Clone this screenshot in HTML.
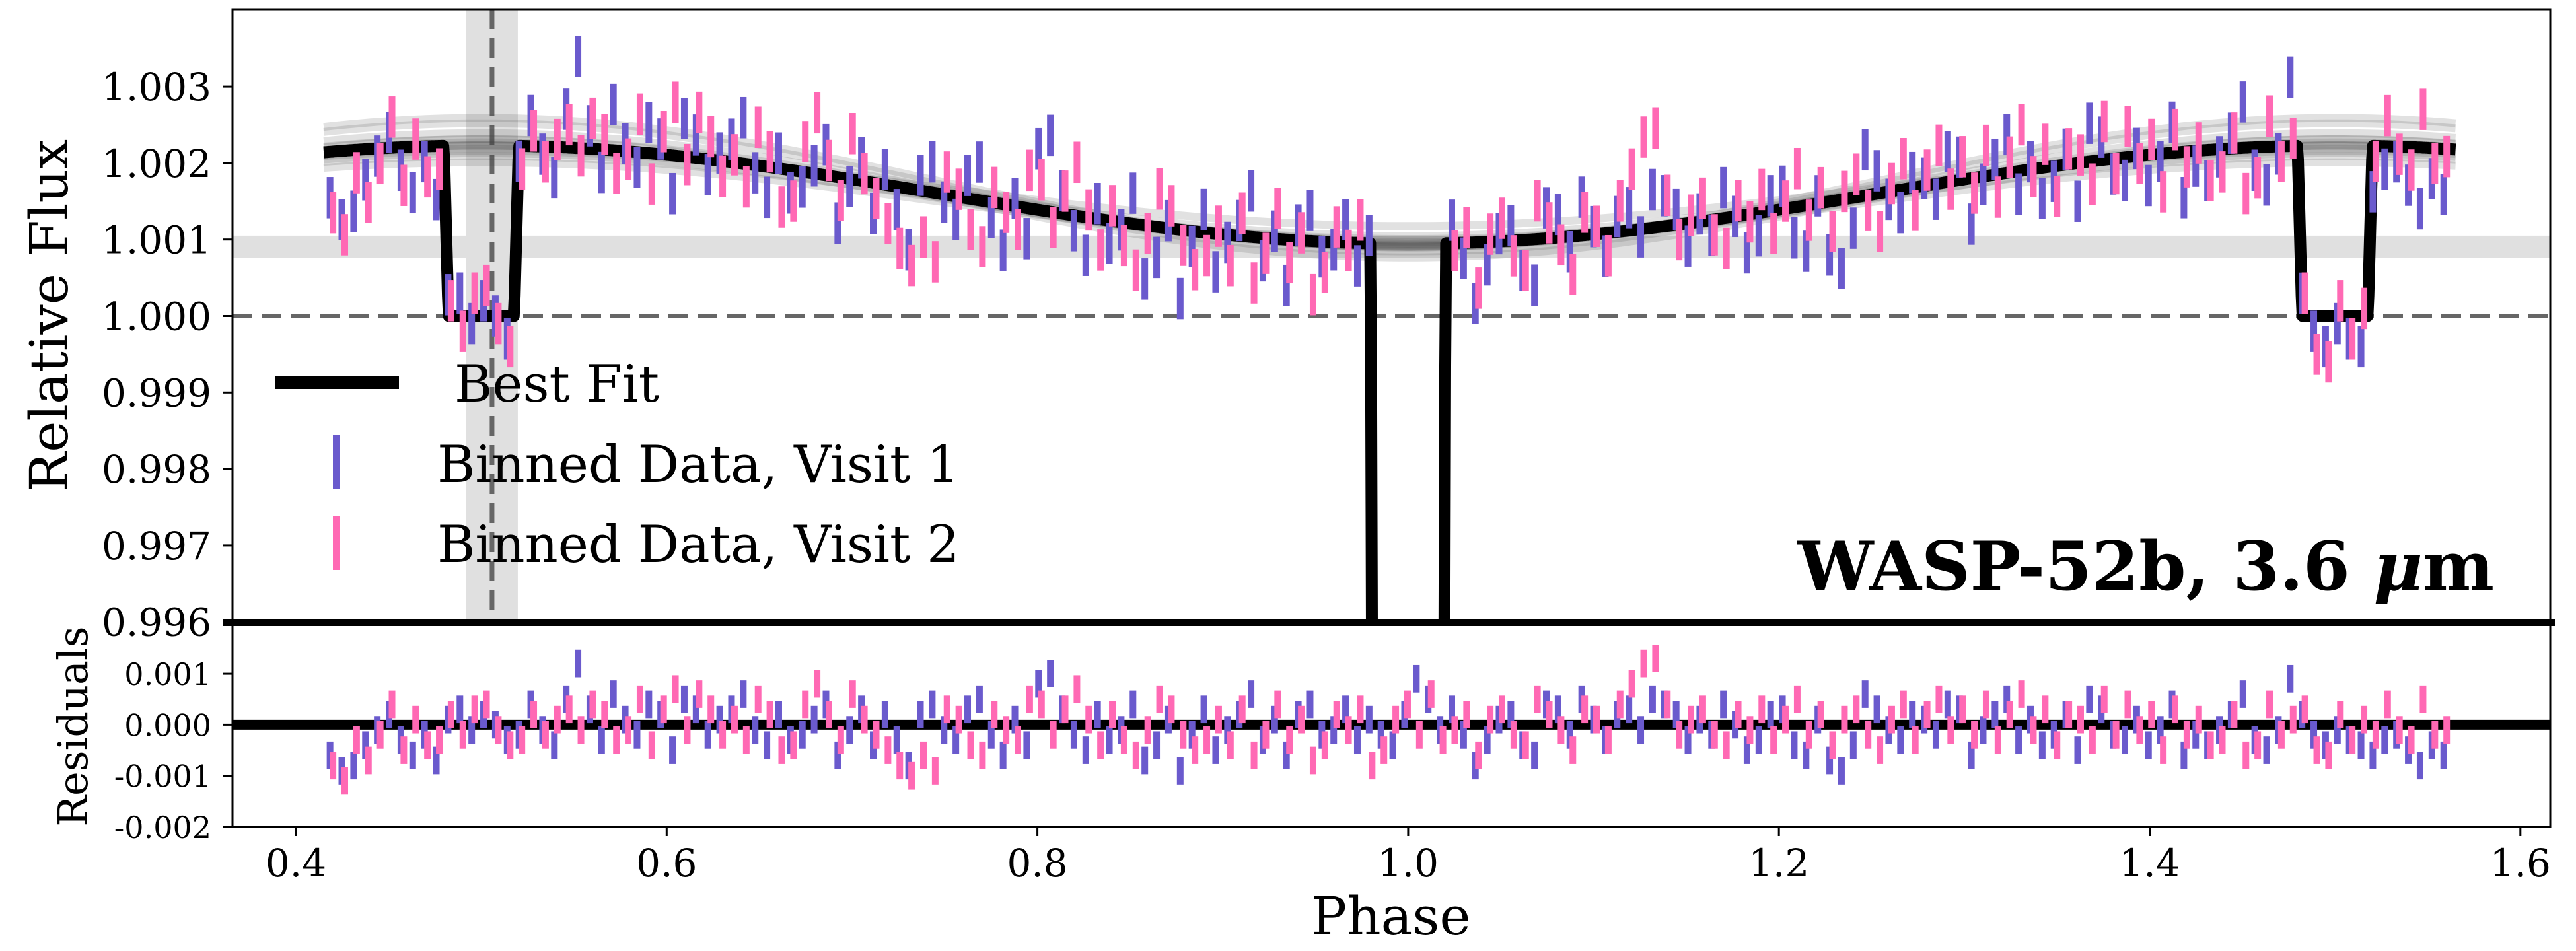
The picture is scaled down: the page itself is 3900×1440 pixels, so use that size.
<!DOCTYPE html>
<html><head><meta charset="utf-8">
<style>
html,body{margin:0;padding:0;background:#fff;width:3900px;height:1440px;overflow:hidden;}
svg{display:block;font-family:"DejaVu Serif","Liberation Serif",serif;}
</style></head>
<body>
<svg id="chart" width="3900" height="1440" viewBox="0 0 3900 1440" xmlns="http://www.w3.org/2000/svg">
<defs>
<clipPath id="clipMain"><rect x="352" y="14" width="3509" height="928"/></clipPath>
<clipPath id="clipRes"><rect x="352" y="942" width="3509" height="310"/></clipPath>
</defs>
<rect x="0" y="0" width="3900" height="1440" fill="#fff"/>
<g id="bg" clip-path="url(#clipMain)"></g>
<g id="gray" clip-path="url(#clipMain)"></g>
<g id="model" clip-path="url(#clipMain)"></g>
<g id="mainData" clip-path="url(#clipMain)"></g>
<g id="resData" clip-path="url(#clipRes)"></g>
<g id="axes"></g>
<g id="legend">
  <line x1="416" y1="579" x2="604" y2="579" stroke="#000" stroke-width="20"/>
  <text x="688" y="608" font-size="78">Best Fit</text>
  <rect x="504" y="659" width="10" height="81" fill="#6a5acd"/>
  <text x="662" y="730" font-size="78">Binned Data, Visit 1</text>
  <rect x="504" y="781" width="10" height="82" fill="#ff69b4"/>
  <text x="662" y="851" font-size="78">Binned Data, Visit 2</text>
</g>
<text x="3776" y="893" text-anchor="end" font-size="102" font-weight="bold">WASP-52b, 3.6 <tspan font-style="italic">μ</tspan>m</text>
<text transform="translate(102,478) rotate(-90)" text-anchor="middle" font-size="80">Relative Flux</text>
<text transform="translate(132,1100) rotate(-90)" text-anchor="middle" font-size="62">Residuals</text>
<text x="2106" y="1415" text-anchor="middle" font-size="80">Phase</text>
</svg>
<script>
// ---- data ----
const xTicks = [0.4, 0.6, 0.8, 1.0, 1.2, 1.4, 1.6];
const xTickLabels = ["0.4","0.6","0.8","1.0","1.2","1.4","1.6"];
const yTicks = [1.003, 1.002, 1.001, 1.000, 0.999, 0.998, 0.997, 0.996];
const yTickLabels = ["1.003","1.002","1.001","1.000","0.999","0.998","0.997","0.996"];
const resTicks = [0.001, 0.000, -0.001, -0.002];
const resTickLabels = ["0.001","0.000","-0.001","-0.002"];
const binStart = [0.4184, 0.4200];
const binStep = [0.00637, 0.00637];
const errHalf = [0.00027, 0.00027];
// residuals in units of 1e-4
const visit1Resid = [
-6,-9,-8,-4,-1,2,-3,-6,-2,-7, 1,3,-1,2,0,-3,-2,4,-1,-4,
5,12,3,-3,6,1,-2,4,2,-5, 5,3,-2,1,3,6,-1,-4,2,-3,
-2,1,4,-6,-1,3,-4,2,-3,-8, 2,4,-1,-3,3,5,-2,-6,1,-4,
8,10,3,-2,-5,2,-3,-1,4,-7, -4,1,-9,-2,3,-5,-1,2,6,-3,
1,-6,2,4,-2,-1,3,-3,1,-2, -4,2,9,5,-1,3,-2,-8,-3,1,
2,-4,-6,4,3,-2,5,1,-3,2, 3,-1,5,4,2,-3,1,-2,4,0,
-5,-3,2,3,-4,-6,1,-7,-9,-4, 6,3,-1,-3,2,1,-2,4,3,-6,
-1,2,5,-3,1,-4,-2,2,-5,5, 3,-2,-3,1,-4,-1,4,-6,-2,-4,
-1,2,6,-3,-5,-1,9,2,-2,-4, -1,-3,-4,-6,-3,-2,-5,-8,-4,-6];
const visit2Resid = [
-8,-11,-3,-7,-2,4,-5,1,-4,-3, 2,-2,3,4,-1,-4,-3,2,-2,1,
3,-1,4,2,-3,-1,5,-4,3,7, -1,6,3,-2,1,-3,5,2,-5,-4,
4,8,2,-3,6,1,-2,-5,-8,-10, -6,-9,3,1,-4,-6,2,-1,-3,5,
4,-2,3,7,1,-4,2,-3,-6,-1, 5,3,-2,-5,-3,1,-4,3,-6,-2,
4,-3,1,-7,-4,2,-1,3,-8,-5, 1,4,-2,6,-3,-1,2,-6,1,3,
-2,-4,5,2,-1,-5,3,1,-3,4, 8,12,13,4,-2,1,3,-2,-4,2,
-1,3,-3,1,5,-2,2,-4,1,3, -2,-5,1,4,-3,2,5,-1,3,-2,
4,-3,2,6,-1,3,-4,2,1,-3, 5,-2,4,-1,2,-5,3,-2,1,-4,
-3,2,-6,-4,4,-2,1,3,-5,-6, 2,-3,1,-2,4,-1,-3,5,-2,-1];
// model parameters
const curveMean = [1.001588];
const curveAmp = [0.000642];
const eclipseCenters = [0.5, 1.5];
const transitCenters = [1.0];
const eventHalfWidth = [0.0202];
const eventFlatHalf = [0.0177];
const transitDepth = [0.02];
const phaseRange = [0.415, 1.565];
const grayAmpOffsets = [-0.00015,-0.0001,-0.00007,-0.00004,-0.00002,0,0.00002,0.00004,0.00007,0.0001,0.00013,0.00017,0.0002,-0.00012];
const grayMeanOffsets = [0.00008,-0.00004,0.00003,-0.00006,0.00002,0,-0.00002,0.00004,-0.00003,0.00006,-0.00005,0.00012,0.00016,-0.0001];

const bandFlux = [1.00076, 1.00105];
const bandPhase = [0.4916, 0.5197];
const dashedPhase = [0.5058];

// ---- scales ----
const X = p => 448 + (p - 0.4) / 0.2 * 561.3;
const Y = f => 478.5 - (f - 1.0) / 0.001 * 115.8;
const YR = r => 1097.4 - r / 0.001 * 77.3;
const NS = "http://www.w3.org/2000/svg";
function mk(tag, parent) { const e = document.createElementNS(NS, tag); parent.appendChild(e); return e; }

function base(p, mean, amp) { return mean + amp * Math.cos(2 * Math.PI * (p - 0.5)); }
function shape(p, c) {
  const d = Math.abs(p - c);
  if (d >= eventHalfWidth[0]) return 0;
  if (d <= eventFlatHalf[0]) return 1;
  return (eventHalfWidth[0] - d) / (eventHalfWidth[0] - eventFlatHalf[0]);
}
function model(p) {
  const b = base(p, curveMean[0], curveAmp[0]);
  let ecl = 0;
  eclipseCenters.forEach(c => { ecl = Math.max(ecl, shape(p, c)); });
  let f = 1 + (b - 1) * (1 - ecl);
  transitCenters.forEach(c => { f -= transitDepth[0] * shape(p, c); });
  return f;
}

// ---- background bands ----
const bg = document.getElementById('bg');
let r = mk('rect', bg);


r.setAttribute('x', 352); r.setAttribute('width', 3509);
r.setAttribute('y', Y(bandFlux[1])); r.setAttribute('height', Y(bandFlux[0]) - Y(bandFlux[1]));
r.setAttribute('fill', '#e0e0e0');
r = mk('rect', bg);


r.setAttribute('x', X(bandPhase[0])); r.setAttribute('width', X(bandPhase[1]) - X(bandPhase[0]));
r.setAttribute('y', 14); r.setAttribute('height', 928);
r.setAttribute('fill', '#e0e0e0');
let l = mk('line', bg);


l.setAttribute('x1', 352); l.setAttribute('x2', 3861); l.setAttribute('y1', Y(1)); l.setAttribute('y2', Y(1));
l.setAttribute('stroke', '#666'); l.setAttribute('stroke-width', 7); l.setAttribute('stroke-dasharray', '30 14');
l = mk('line', bg);


l.setAttribute('x1', X(dashedPhase[0])); l.setAttribute('x2', X(dashedPhase[0])); l.setAttribute('y1', 14); l.setAttribute('y2', 942);
l.setAttribute('stroke', '#666'); l.setAttribute('stroke-width', 7); l.setAttribute('stroke-dasharray', '30 14');

// ---- gray posterior draws ----
const gray = document.getElementById('gray');
grayAmpOffsets.forEach((da, i) => {
  let d = '';
  for (let p = phaseRange[0]; p <= phaseRange[1] + 1e-9; p += 0.005) {
    const f = base(p, curveMean[0] + grayMeanOffsets[i], curveAmp[0] + da);
    d += (d ? 'L' : 'M') + X(p).toFixed(1) + ' ' + Y(f).toFixed(1);
  }
  const pa = mk('path', gray);
  
  
  pa.setAttribute('d', d); pa.setAttribute('fill', 'none');
  pa.setAttribute('stroke', '#444'); pa.setAttribute('stroke-opacity', '0.16'); pa.setAttribute('stroke-width', 12);
});

// ---- best-fit model ----
(function () {
  let d = '';
  for (let p = phaseRange[0]; p <= phaseRange[1] + 1e-9; p += 0.0005) {
    d += (d ? 'L' : 'M') + X(p).toFixed(1) + ' ' + Y(model(p)).toFixed(1);
  }
  const pa = mk('path', document.getElementById('model'));
  
  
  pa.setAttribute('d', d); pa.setAttribute('fill', 'none');
  pa.setAttribute('stroke', '#000'); pa.setAttribute('stroke-width', 18); pa.setAttribute('stroke-linejoin', 'round');
})();

// ---- data bars ----
const mainG = document.getElementById('mainData');
const resG = document.getElementById('resData');
const rl = mk('line', resG);


rl.setAttribute('x1', 352); rl.setAttribute('x2', 3861); rl.setAttribute('y1', YR(0)); rl.setAttribute('y2', YR(0));
rl.setAttribute('stroke', '#000'); rl.setAttribute('stroke-width', 15);
const visits = [[visit1Resid, '#6a5acd', 0], [visit2Resid, '#ff69b4', 1]];
const order = [];
visit1Resid.forEach((v, i) => { order.push([0, i]); order.push([1, i]); });
visit2Resid.forEach((v, i) => { if (i >= visit1Resid.length) order.push([1, i]); });
order.forEach(([vi, i]) => {
  const arr = visits[vi][0];
  if (i >= arr.length) return;
  const col = visits[vi][1];
  const p = binStart[vi] + i * binStep[vi];
  const res = arr[i] * 1e-4;
  const f = model(p) + res;
  const e = errHalf[vi];
  const b = mk('rect', mainG);
  
  
  b.setAttribute('x', X(p) - 5); b.setAttribute('width', 10);
  b.setAttribute('y', Y(f + e)); b.setAttribute('height', Y(f - e) - Y(f + e));
  b.setAttribute('fill', col);
  const rb = mk('rect', resG);
  
  
  rb.setAttribute('x', X(p) - 5); rb.setAttribute('width', 10);
  rb.setAttribute('y', YR(res + e)); rb.setAttribute('height', YR(res - e) - YR(res + e));
  rb.setAttribute('fill', col);
});

// ---- axes ----
const ax = document.getElementById('axes');
let fr = mk('rect', ax);


fr.setAttribute('x', 352); fr.setAttribute('y', 14); fr.setAttribute('width', 3509); fr.setAttribute('height', 1238);
fr.setAttribute('fill', 'none'); fr.setAttribute('stroke', '#000'); fr.setAttribute('stroke-width', 3);
let sep = mk('line', ax);


sep.setAttribute('x1', 338); sep.setAttribute('x2', 3868); sep.setAttribute('y1', 943); sep.setAttribute('y2', 943);
sep.setAttribute('stroke', '#000'); sep.setAttribute('stroke-width', 10);
yTicks.forEach((t, i) => {
  const tl = mk('line', ax);
  
  
  tl.setAttribute('x1', 338); tl.setAttribute('x2', 352); tl.setAttribute('y1', Y(t)); tl.setAttribute('y2', Y(t));
  tl.setAttribute('stroke', '#000'); tl.setAttribute('stroke-width', 3);
  const tx = mk('text', ax);
  
  
  tx.setAttribute('x', 320); tx.setAttribute('y', Y(t) + 21); tx.setAttribute('text-anchor', 'end'); tx.setAttribute('font-size', 58);
  tx.textContent = yTickLabels[i];
});
resTicks.forEach((t, i) => {
  const tl = mk('line', ax);
  
  
  tl.setAttribute('x1', 338); tl.setAttribute('x2', 352); tl.setAttribute('y1', YR(t)); tl.setAttribute('y2', YR(t));
  tl.setAttribute('stroke', '#000'); tl.setAttribute('stroke-width', 3);
  const tx = mk('text', ax);
  
  
  tx.setAttribute('x', 320); tx.setAttribute('y', YR(t) + 17); tx.setAttribute('text-anchor', 'end'); tx.setAttribute('font-size', 46);
  tx.textContent = resTickLabels[i];
});
xTicks.forEach((t, i) => {
  const tl = mk('line', ax);
  
  
  tl.setAttribute('x1', X(t)); tl.setAttribute('x2', X(t)); tl.setAttribute('y1', 1252); tl.setAttribute('y2', 1266);
  tl.setAttribute('stroke', '#000'); tl.setAttribute('stroke-width', 3);
  const tx = mk('text', ax);
  
  
  tx.setAttribute('x', X(t)); tx.setAttribute('y', 1327); tx.setAttribute('text-anchor', 'middle'); tx.setAttribute('font-size', 58);
  tx.textContent = xTickLabels[i];
});
</script>
</body></html>
